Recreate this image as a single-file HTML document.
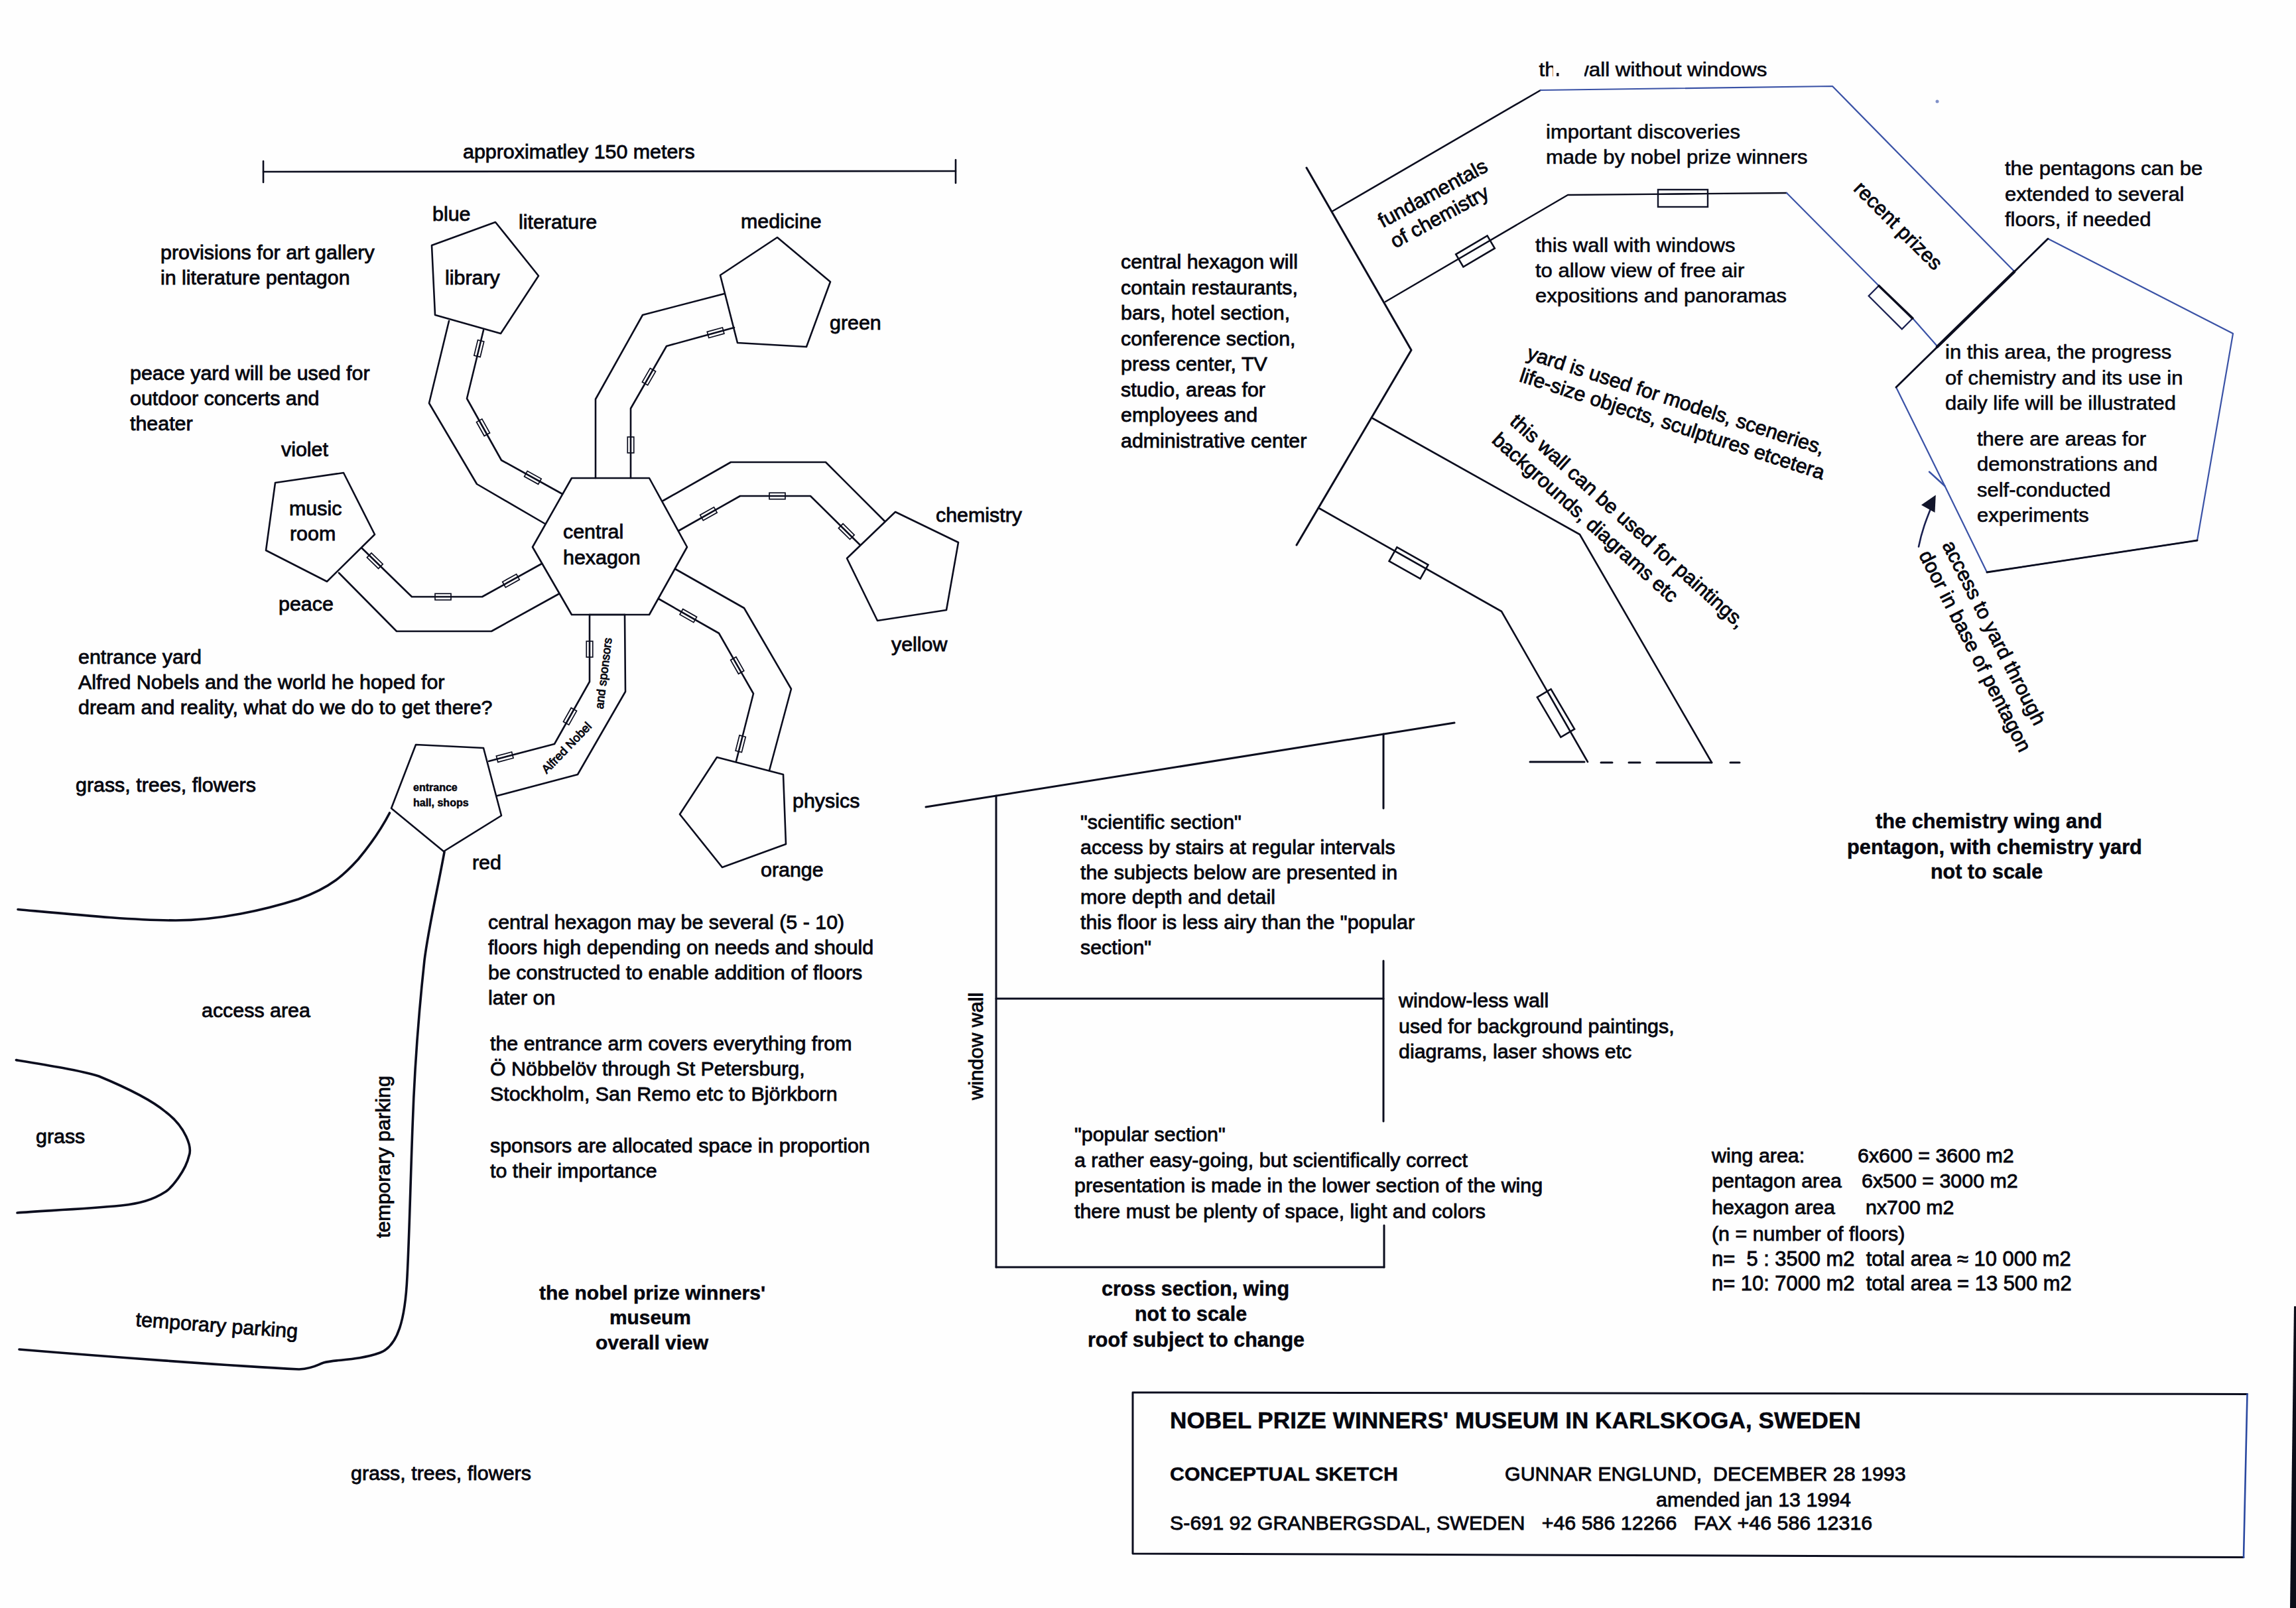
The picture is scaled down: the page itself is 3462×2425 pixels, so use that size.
<!DOCTYPE html><html><head><meta charset="utf-8"><style>html,body{margin:0;padding:0;background:#fff;overflow:hidden;}svg{display:block;}text{font-family:"Liberation Sans",sans-serif;fill:#06070f;stroke:#06070f;stroke-width:0.85px;white-space:pre;} text[font-weight="bold"]{stroke-width:0.5px;} text.cw{stroke-width:0.6px;}</style></head><body>
<svg width="3462" height="2425" viewBox="0 0 3462 2425">
<rect x="0" y="0" width="3462" height="2425" fill="#fefefe"/>
<line x1="397" y1="259" x2="1441" y2="258" stroke="#0b0d1e" stroke-width="2.6" stroke-linecap="round"/>
<line x1="397" y1="243" x2="397" y2="275" stroke="#0b0d1e" stroke-width="2.6" stroke-linecap="round"/>
<line x1="1441" y1="241" x2="1441" y2="276" stroke="#0b0d1e" stroke-width="2.6" stroke-linecap="round"/>
<text x="698" y="239" font-size="30.4">approximatley 150 meters</text>
<polygon points="651,370 747,335 812,416 755,503 656,475" fill="none" stroke="#0b0d1e" stroke-width="2.6" stroke-linejoin="round" stroke-linecap="round" />
<polygon points="1086,415 1172,358 1252,425 1216,523 1112,517" fill="none" stroke="#0b0d1e" stroke-width="2.6" stroke-linejoin="round" stroke-linecap="round" />
<polygon points="1277,842 1350,772 1445,818 1427,920 1323,936" fill="none" stroke="#0b0d1e" stroke-width="2.6" stroke-linejoin="round" stroke-linecap="round" />
<polygon points="1081,1142 1181,1168 1185,1273 1089,1308 1025,1228" fill="none" stroke="#0b0d1e" stroke-width="2.6" stroke-linejoin="round" stroke-linecap="round" />
<polygon points="415,728 518,713 565,806 493,877 401,830" fill="none" stroke="#0b0d1e" stroke-width="2.6" stroke-linejoin="round" stroke-linecap="round" />
<polygon points="627,1123 729,1128 756,1230 669,1284 590,1219" fill="none" stroke="#0b0d1e" stroke-width="2.6" stroke-linejoin="round" stroke-linecap="round" />
<polygon points="803,825 862,721 979,721 1036,825 979,927 862,927" fill="none" stroke="#0b0d1e" stroke-width="2.6" stroke-linejoin="round" stroke-linecap="round" />
<polyline points="677,484 647,608 719,730 822,790" fill="none" stroke="#0b0d1e" stroke-width="2.6" stroke-linejoin="round" stroke-linecap="round" />
<polyline points="898,721 898,602 969,475 1092,443" fill="none" stroke="#0b0d1e" stroke-width="2.6" stroke-linejoin="round" stroke-linecap="round" />
<polyline points="1000,755 1102,697 1245,697 1334,786" fill="none" stroke="#0b0d1e" stroke-width="2.6" stroke-linejoin="round" stroke-linecap="round" />
<polyline points="1018,858 1122,917 1193,1039 1160,1162" fill="none" stroke="#0b0d1e" stroke-width="2.6" stroke-linejoin="round" stroke-linecap="round" />
<polyline points="511,864 598,952 741,952 842,896" fill="none" stroke="#0b0d1e" stroke-width="2.6" stroke-linejoin="round" stroke-linecap="round" />
<polyline points="942,927 943,1043 871,1168 750,1200" fill="none" stroke="#0b0d1e" stroke-width="2.6" stroke-linejoin="round" stroke-linecap="round" />
<polyline points="729,498 704,601 756,694 848,745" fill="none" stroke="#0b0d1e" stroke-width="2.6" stroke-linejoin="round" stroke-linecap="round" />
<polyline points="951,721 951,616 1005,522 1107,494" fill="none" stroke="#0b0d1e" stroke-width="2.6" stroke-linejoin="round" stroke-linecap="round" />
<polyline points="1024,800 1116,748 1222,748 1297,822" fill="none" stroke="#0b0d1e" stroke-width="2.6" stroke-linejoin="round" stroke-linecap="round" />
<polyline points="993,903 1084,955 1136,1046 1110,1148" fill="none" stroke="#0b0d1e" stroke-width="2.6" stroke-linejoin="round" stroke-linecap="round" />
<polyline points="546,827 621,900 727,900 817,850" fill="none" stroke="#0b0d1e" stroke-width="2.6" stroke-linejoin="round" stroke-linecap="round" />
<polyline points="889,927 889,1028 836,1122 737,1148" fill="none" stroke="#0b0d1e" stroke-width="2.6" stroke-linejoin="round" stroke-linecap="round" />
<line x1="889" y1="927" x2="942" y2="927" stroke="#0b0d1e" stroke-width="2.6" stroke-linecap="round"/>
<rect x="710.3" y="520.85" width="24" height="9.5" fill="none" stroke="#0b0d1e" stroke-width="1.7" transform="rotate(103.6 722.3 525.6)"/>
<rect x="716.5" y="639.95" width="24" height="9.5" fill="none" stroke="#0b0d1e" stroke-width="1.7" transform="rotate(60.8 728.5 644.7)"/>
<rect x="791.4" y="715.55" width="24" height="9.5" fill="none" stroke="#0b0d1e" stroke-width="1.7" transform="rotate(29.0 803.4 720.3)"/>
<rect x="939.0" y="666.25" width="24" height="9.5" fill="none" stroke="#0b0d1e" stroke-width="1.7" transform="rotate(-90.0 951.0 671.0)"/>
<rect x="966.5" y="563.35" width="24" height="9.5" fill="none" stroke="#0b0d1e" stroke-width="1.7" transform="rotate(-60.1 978.5 568.1)"/>
<rect x="1067.1" y="496.95" width="24" height="9.5" fill="none" stroke="#0b0d1e" stroke-width="1.7" transform="rotate(-15.4 1079.1 501.7)"/>
<rect x="1056.4" y="770.15" width="24" height="9.5" fill="none" stroke="#0b0d1e" stroke-width="1.7" transform="rotate(-29.5 1068.4 774.9)"/>
<rect x="1160.0" y="743.25" width="24" height="9.5" fill="none" stroke="#0b0d1e" stroke-width="1.7" transform="rotate(0.0 1172.0 748.0)"/>
<rect x="1264.3" y="796.85" width="24" height="9.5" fill="none" stroke="#0b0d1e" stroke-width="1.7" transform="rotate(44.6 1276.3 801.6)"/>
<rect x="1025.8" y="923.85" width="24" height="9.5" fill="none" stroke="#0b0d1e" stroke-width="1.7" transform="rotate(29.7 1037.8 928.6)"/>
<rect x="1099.7" y="998.75" width="24" height="9.5" fill="none" stroke="#0b0d1e" stroke-width="1.7" transform="rotate(60.3 1111.7 1003.5)"/>
<rect x="1104.7" y="1116.95" width="24" height="9.5" fill="none" stroke="#0b0d1e" stroke-width="1.7" transform="rotate(104.3 1116.7 1121.7)"/>
<rect x="553.3" y="840.95" width="24" height="9.5" fill="none" stroke="#0b0d1e" stroke-width="1.7" transform="rotate(44.2 565.3 845.7)"/>
<rect x="656.0" y="895.25" width="24" height="9.5" fill="none" stroke="#0b0d1e" stroke-width="1.7" transform="rotate(0.0 668.0 900.0)"/>
<rect x="758.5" y="871.05" width="24" height="9.5" fill="none" stroke="#0b0d1e" stroke-width="1.7" transform="rotate(-29.1 770.5 875.8)"/>
<rect x="877.0" y="974.25" width="24" height="9.5" fill="none" stroke="#0b0d1e" stroke-width="1.7" transform="rotate(90.0 889.0 979.0)"/>
<rect x="847.5" y="1075.55" width="24" height="9.5" fill="none" stroke="#0b0d1e" stroke-width="1.7" transform="rotate(119.4 859.5 1080.3)"/>
<rect x="749.2" y="1136.95" width="24" height="9.5" fill="none" stroke="#0b0d1e" stroke-width="1.7" transform="rotate(165.3 761.2 1141.7)"/>
<text x="652" y="333" font-size="30.4">blue</text>
<text x="782" y="345" font-size="30.4">literature</text>
<text x="671" y="429" font-size="30.4">library</text>
<text x="1117" y="344" font-size="30.4">medicine</text>
<text x="1251" y="497" font-size="30.4">green</text>
<text x="1411" y="787" font-size="30.4">chemistry</text>
<text x="1344" y="982" font-size="30.4">yellow</text>
<text x="1195" y="1218" font-size="30.4">physics</text>
<text x="1147" y="1322" font-size="30.4">orange</text>
<text x="424" y="688" font-size="30.4">violet</text>
<text x="436" y="777" font-size="30.4">music</text>
<text x="437" y="815" font-size="30.4">room</text>
<text x="420" y="921" font-size="30.4">peace</text>
<text x="849" y="812" font-size="30.4">central</text>
<text x="849" y="851" font-size="30.4">hexagon</text>
<text x="623" y="1193" font-size="16" font-weight="bold">entrance</text>
<text x="623" y="1216" font-size="16" font-weight="bold">hall, shops</text>
<text x="712" y="1311" font-size="30.4">red</text>
<text x="909.4" y="1069.8" font-size="18" transform="rotate(-83 909.4 1069.8)">and sponsors</text>
<text x="824.3" y="1167.6" font-size="18" transform="rotate(-46 824.3 1167.6)">Alfred Nobel</text>
<text x="242" y="391" font-size="30.4">provisions for art gallery</text>
<text x="242" y="429" font-size="30.4">in literature pentagon</text>
<text x="196" y="573" font-size="30.4">peace yard will be used for</text>
<text x="196" y="611" font-size="30.4">outdoor concerts and</text>
<text x="196" y="649" font-size="30.4">theater</text>
<text x="118" y="1001" font-size="30.4">entrance yard</text>
<text x="118" y="1039" font-size="30.4">Alfred Nobels and the world he hoped for</text>
<text x="118" y="1077" font-size="30.4">dream and reality, what do we do to get there?</text>
<text x="114" y="1194" font-size="30.4">grass, trees, flowers</text>
<text x="304" y="1534" font-size="30.4">access area</text>
<text x="54" y="1724" font-size="30.4">grass</text>
<text x="587.8" y="1867" font-size="30.4" transform="rotate(-90 587.8 1867)">temporary parking</text>
<text x="204" y="2000" font-size="30.4" transform="rotate(4.2 204 2000)">temporary parking</text>
<text x="529" y="2232" font-size="30.4">grass, trees, flowers</text>
<text x="813" y="1960" font-size="30.05" font-weight="bold">the nobel prize winners'</text>
<text x="919" y="1997" font-size="29.9" font-weight="bold">museum</text>
<text x="898" y="2035" font-size="30" font-weight="bold">overall view</text>
<text x="736" y="1401" font-size="30.4">central hexagon may be several (5 - 10)</text>
<text x="736" y="1439" font-size="30.4">floors high depending on needs and should</text>
<text x="736" y="1477" font-size="30.4">be constructed to enable addition of floors</text>
<text x="736" y="1515" font-size="30.4">later on</text>
<text x="739" y="1584" font-size="30.4">the entrance arm covers everything from</text>
<text x="739" y="1622" font-size="30.4">Ö Nöbbelöv through St Petersburg,</text>
<text x="739" y="1660" font-size="30.4">Stockholm, San Remo etc to Björkborn</text>
<text x="739" y="1738" font-size="30.4">sponsors are allocated space in proportion</text>
<text x="739" y="1776" font-size="30.4">to their importance</text>
<text x="1690" y="405.0" font-size="30.4">central hexagon will</text>
<text x="1690" y="443.5" font-size="30.4">contain restaurants,</text>
<text x="1690" y="482.0" font-size="30.4">bars, hotel section,</text>
<text x="1690" y="520.5" font-size="30.4">conference section,</text>
<text x="1690" y="559.0" font-size="30.4">press center, TV</text>
<text x="1690" y="597.5" font-size="30.4">studio, areas for</text>
<text x="1690" y="636.0" font-size="30.4">employees and</text>
<text x="1690" y="674.5" font-size="30.4">administrative center</text>
<path d="M27,1371.5 C120,1380 200,1388 265,1388 C330,1388 400,1372 450,1356 C500,1338 520,1318 540,1296 C560,1272 575,1250 587.5,1226" fill="none" stroke="#0b0d1e" stroke-width="3.6" stroke-linejoin="round" stroke-linecap="round"/>
<path d="M670,1285 C660,1340 646,1400 640,1448 C630,1540 624,1640 622,1700 C619,1780 617,1870 614,1925 C611,1990 600,2030 573,2040 C540,2052 505,2050 488,2055 C478,2058 475,2063 451,2065 C350,2060 150,2045 29,2035" fill="none" stroke="#0b0d1e" stroke-width="3.6" stroke-linejoin="round" stroke-linecap="round"/>
<path d="M24.4,1598.6 C70,1606 120,1614 149,1623 C190,1640 230,1660 250,1677 C280,1700 290,1730 285,1743 C280,1765 260,1790 250,1797 C230,1810 210,1815 183,1818 C120,1824 60,1826 26,1829" fill="none" stroke="#0b0d1e" stroke-width="3.6" stroke-linejoin="round" stroke-linecap="round"/>
<polyline points="1970,253 2128,528 1955,822" fill="none" stroke="#0b0d1e" stroke-width="3" stroke-linejoin="round" stroke-linecap="round" />
<polyline points="2010,318 2323,136" fill="none" stroke="#0b0d1e" stroke-width="2.6" stroke-linejoin="round" stroke-linecap="round" />
<polyline points="2323,136 2763,130 3037,409" fill="none" stroke="#3a52a6" stroke-width="2.2" stroke-linejoin="round" stroke-linecap="round" />
<polyline points="2089,455 2364,294 2694,291" fill="none" stroke="#0b0d1e" stroke-width="2.4" stroke-linejoin="round" stroke-linecap="round" />
<polyline points="2694,291 2833,431" fill="none" stroke="#3a52a6" stroke-width="2.2" stroke-linejoin="round" stroke-linecap="round" />
<line x1="2884" y1="480" x2="2921" y2="522" stroke="#3a52a6" stroke-width="2.2" stroke-linecap="round"/>
<rect x="2197.0" y="368.0" width="55" height="22" fill="none" stroke="#0b0d1e" stroke-width="2.6" transform="rotate(-30.5 2224.5 379)"/>
<rect x="2500" y="286" width="75" height="26" fill="none" stroke="#12152a" stroke-width="2.4"/>
<line x1="2500" y1="293" x2="2575" y2="292" stroke="#0b0d1e" stroke-width="2.2" stroke-linecap="round"/>
<rect x="2815.0" y="452.5" width="71" height="22" fill="none" stroke="#1a2050" stroke-width="2.2" transform="rotate(45 2850.5 463.5)"/>
<line x1="2833" y1="431" x2="2884" y2="480" stroke="#0b0d1e" stroke-width="3.5" stroke-linecap="round"/>
<polygon points="2859,584 3088,360 3367,503 3313,815 2996,863 2932.5,733" fill="none" stroke="#3a52a6" stroke-width="2.2" stroke-linejoin="round" stroke-linecap="round" />
<line x1="2859" y1="584" x2="3088" y2="360" stroke="#0b0d1e" stroke-width="2.8" stroke-linecap="round"/>
<line x1="2921" y1="523" x2="3037" y2="410" stroke="#0b0d1e" stroke-width="4.5" stroke-linecap="round"/>
<line x1="2909" y1="711.5" x2="2932.5" y2="733" stroke="#3a52a6" stroke-width="2.4" stroke-linecap="round"/>
<line x1="2996" y1="863" x2="3313" y2="815" stroke="#0b0d1e" stroke-width="2.8" stroke-linecap="round"/>
<path d="M2893,824.5 C2898,800 2904,785 2912,765" fill="none" stroke="#1a2050" stroke-width="2.6" stroke-linejoin="round" stroke-linecap="round"/>
<polygon points="2897,761.6 2918.8,746.5 2917.5,773" fill="#12152a"/>
<polyline points="2070,631 2382,806 2581,1150" fill="none" stroke="#0b0d1e" stroke-width="2.6" stroke-linejoin="round" stroke-linecap="round" />
<polyline points="1990,767 2264,922 2394,1149" fill="none" stroke="#0b0d1e" stroke-width="2.6" stroke-linejoin="round" stroke-linecap="round" />
<rect x="2097.0" y="837.0" width="54" height="24" fill="none" stroke="#0b0d1e" stroke-width="2.6" transform="rotate(29.5 2124 849)"/>
<rect x="2311.0" y="1063.5" width="70" height="24" fill="none" stroke="#0b0d1e" stroke-width="2.6" transform="rotate(59.5 2346 1075.5)"/>
<line x1="2307" y1="1149" x2="2389" y2="1149" stroke="#0b0d1e" stroke-width="3" stroke-linecap="round"/>
<line x1="2414" y1="1150" x2="2431" y2="1150" stroke="#0b0d1e" stroke-width="3" stroke-linecap="round"/>
<line x1="2456" y1="1150" x2="2473" y2="1150" stroke="#0b0d1e" stroke-width="3" stroke-linecap="round"/>
<line x1="2498" y1="1150" x2="2581" y2="1150" stroke="#0b0d1e" stroke-width="3" stroke-linecap="round"/>
<line x1="2609" y1="1150" x2="2623" y2="1150" stroke="#0b0d1e" stroke-width="3" stroke-linecap="round"/>
<text x="2320.6" y="115" font-size="29.2" class="cw" textLength="344" lengthAdjust="spacingAndGlyphs">the wall without windows</text>
<rect x="2342" y="80" width="47" height="42" fill="#fefefe"/><rect x="2347" y="110" width="3.5" height="5" fill="#0e1020"/>
<text x="2331" y="209" font-size="29.2" class="cw" textLength="292.9" lengthAdjust="spacingAndGlyphs">important discoveries</text>
<text x="2331" y="247" font-size="29.2" class="cw" textLength="394.6" lengthAdjust="spacingAndGlyphs">made by nobel prize winners</text>
<text x="2315" y="380" font-size="29.2" class="cw" textLength="301.5" lengthAdjust="spacingAndGlyphs">this wall with windows</text>
<text x="2315" y="418" font-size="29.2" class="cw" textLength="315.3" lengthAdjust="spacingAndGlyphs">to allow view of free air</text>
<text x="2315" y="456" font-size="29.2" class="cw" textLength="379.1" lengthAdjust="spacingAndGlyphs">expositions and panoramas</text>
<text x="2085" y="344" font-size="30.4" transform="rotate(-28.5 2085 344)">fundamentals</text>
<text x="2103.4" y="375" font-size="30.4" transform="rotate(-28.5 2103.4 375)">of chemistry</text>
<text x="2793.4" y="286" font-size="30.4" transform="rotate(45 2793.4 286)">recent prizes</text>
<text x="3023" y="264.0" font-size="29.2" class="cw" textLength="298.2" lengthAdjust="spacingAndGlyphs">the pentagons can be</text>
<text x="3023" y="302.5" font-size="29.2" class="cw" textLength="270.5" lengthAdjust="spacingAndGlyphs">extended to several</text>
<text x="3023" y="341.0" font-size="29.2" class="cw" textLength="220.6" lengthAdjust="spacingAndGlyphs">floors, if needed</text>
<text x="2933" y="541.0" font-size="29.2" class="cw" textLength="341.2" lengthAdjust="spacingAndGlyphs">in this area, the progress</text>
<text x="2933" y="579.5" font-size="29.2" class="cw" textLength="358.4" lengthAdjust="spacingAndGlyphs">of chemistry and its use in</text>
<text x="2933" y="618.0" font-size="29.2" class="cw" textLength="348.0" lengthAdjust="spacingAndGlyphs">daily life will be illustrated</text>
<text x="2981" y="672.0" font-size="29.2" class="cw" textLength="255.0" lengthAdjust="spacingAndGlyphs">there are areas for</text>
<text x="2981" y="710.3" font-size="29.2" class="cw" textLength="272.3" lengthAdjust="spacingAndGlyphs">demonstrations and</text>
<text x="2981" y="748.6" font-size="29.2" class="cw" textLength="201.6" lengthAdjust="spacingAndGlyphs">self-conducted</text>
<text x="2981" y="786.9" font-size="29.2" class="cw" textLength="168.8" lengthAdjust="spacingAndGlyphs">experiments</text>
<text x="2300.8" y="540.8" font-size="30.4" transform="rotate(18 2300.8 540.8)">yard is used for models, sceneries,</text>
<text x="2289.4" y="574.7" font-size="30.4" transform="rotate(18 2289.4 574.7)">life-size objects, sculptures etcetera</text>
<text x="2275" y="638" font-size="30.4" transform="rotate(42 2275 638)">this wall can be used for paintings,</text>
<text x="2248" y="666" font-size="30.4" transform="rotate(42 2248 666)">backgrounds, diagrams etc</text>
<text x="2928" y="822" font-size="30.4" transform="rotate(63 2928 822)">access to yard through</text>
<text x="2892.8" y="836.8" font-size="30.4" transform="rotate(63 2892.8 836.8)">door in base of pentagon</text>
<text x="2828" y="1249" font-size="30.75" font-weight="bold">the chemistry wing and</text>
<text x="2785" y="1288" font-size="30.8" font-weight="bold">pentagon, with chemistry yard</text>
<text x="2911" y="1325" font-size="30.45" font-weight="bold">not to scale</text>
<line x1="1396" y1="1217" x2="2193" y2="1090" stroke="#0b0d1e" stroke-width="3" stroke-linecap="round"/>
<line x1="1502" y1="1200" x2="1502" y2="1911" stroke="#0b0d1e" stroke-width="3" stroke-linecap="round"/>
<line x1="2086" y1="1107" x2="2086" y2="1219" stroke="#0b0d1e" stroke-width="3" stroke-linecap="round"/>
<line x1="2086" y1="1449" x2="2086" y2="1691" stroke="#0b0d1e" stroke-width="3" stroke-linecap="round"/>
<line x1="2087" y1="1848" x2="2087" y2="1911" stroke="#0b0d1e" stroke-width="3" stroke-linecap="round"/>
<line x1="1502" y1="1506" x2="2086" y2="1506" stroke="#0b0d1e" stroke-width="3" stroke-linecap="round"/>
<line x1="1502" y1="1911" x2="2087" y2="1911" stroke="#0b0d1e" stroke-width="3" stroke-linecap="round"/>
<text x="1481.7" y="1659" font-size="30.4" transform="rotate(-90 1481.7 1659)">window wall</text>
<text x="1629" y="1250.0" font-size="30.4">"scientific section"</text>
<text x="1629" y="1287.8" font-size="30.4">access by stairs at regular intervals</text>
<text x="1629" y="1325.6" font-size="30.4">the subjects below are presented in</text>
<text x="1629" y="1363.4" font-size="30.4">more depth and detail</text>
<text x="1629" y="1401.2" font-size="30.4">this floor is less airy than the "popular</text>
<text x="1629" y="1439.0" font-size="30.4">section"</text>
<text x="2109" y="1519.0" font-size="30.4">window-less wall</text>
<text x="2109" y="1557.5" font-size="30.4">used for background paintings,</text>
<text x="2109" y="1596.0" font-size="30.4">diagrams, laser shows etc</text>
<text x="1620" y="1721.0" font-size="30.4">"popular section"</text>
<text x="1620" y="1759.7" font-size="30.4">a rather easy-going, but scientifically correct</text>
<text x="1620" y="1798.4" font-size="30.4">presentation is made in the lower section of the wing</text>
<text x="1620" y="1837.1" font-size="30.4">there must be plenty of space, light and colors</text>
<text x="1661" y="1954" font-size="30.5" font-weight="bold">cross section, wing</text>
<text x="1711" y="1992" font-size="30.45" font-weight="bold">not to scale</text>
<text x="1640" y="2031" font-size="30.5" font-weight="bold">roof subject to change</text>
<text x="2581" y="1753" font-size="30.4">wing area:</text>
<text x="2801" y="1753" font-size="30.4">6x600 = 3600 m2</text>
<text x="2581" y="1791" font-size="30.4">pentagon area</text>
<text x="2807" y="1791" font-size="30.4">6x500 = 3000 m2</text>
<text x="2581" y="1831" font-size="30.4">hexagon area</text>
<text x="2813" y="1831" font-size="30.4">nx700 m2</text>
<text x="2581" y="1871" font-size="30.4">(n = number of floors)</text>
<text x="2581" y="1909" font-size="30.9">n=  5 : 3500 m2  total area ≈ 10 000 m2</text>
<text x="2581" y="1946" font-size="30.9">n= 10: 7000 m2  total area = 13 500 m2</text>
<polyline points="3388.5,2102.5 1708,2100 1708,2343 3383,2348.6" fill="none" stroke="#0b0d1e" stroke-width="3" stroke-linejoin="round" stroke-linecap="round" />
<line x1="3388.5" y1="2102.5" x2="3383" y2="2348.6" stroke="#2a48a0" stroke-width="2.6" stroke-linecap="round"/>
<text x="1764" y="2154" font-size="35.2" font-weight="bold">NOBEL PRIZE WINNERS' MUSEUM IN KARLSKOGA, SWEDEN</text>
<text x="1764" y="2233" font-size="30.4" font-weight="bold">CONCEPTUAL SKETCH</text>
<text x="2269" y="2233" font-size="30.4">GUNNAR ENGLUND,  DECEMBER 28 1993</text>
<text x="2497" y="2272" font-size="30.4">amended jan 13 1994</text>
<text x="1764" y="2307" font-size="30.4">S-691 92 GRANBERGSDAL, SWEDEN   +46 586 12266   FAX +46 586 12316</text>
<circle cx="2921" cy="153" r="2.5" fill="#8090c8"/>
<polygon points="3459,1970 3462,1970 3462,2425 3453,2425" fill="#0a0c18"/>
</svg></body></html>
